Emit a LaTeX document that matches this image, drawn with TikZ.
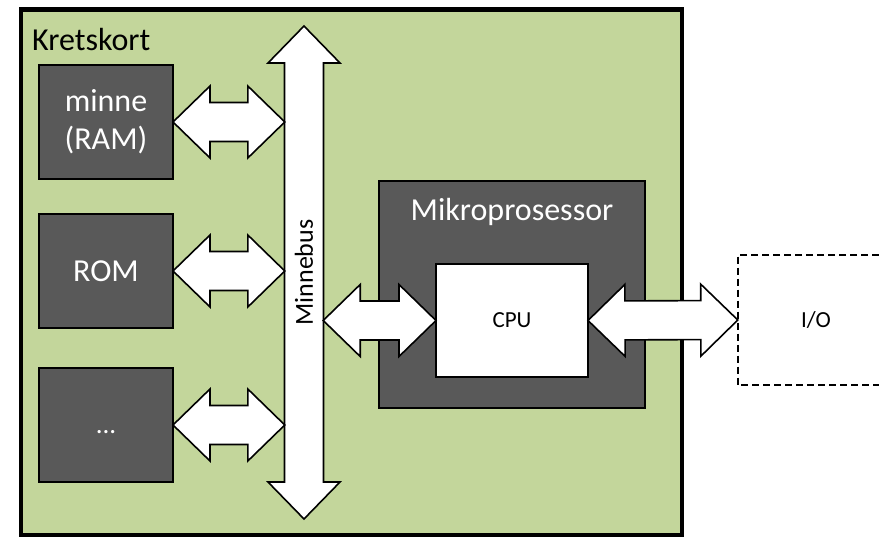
\documentclass[tikz,border=0pt]{standalone}
\usepackage{fontspec}
\setmainfont{Carlito}
\usepackage{tikz}
\usetikzlibrary{calc}
\usetikzlibrary{positioning}
\definecolor{boardgreen}{RGB}{195,214,155}
\definecolor{chipgray}{RGB}{89,89,89}
\newcommand{\headlen}{37pt}
\newcommand{\headhalf}{36pt}
\newcommand{\shafthalf}{19.5pt}
\newcommand{\bigfont}{\fontsize{32}{38}\selectfont}
\newcommand{\busfont}{\fontsize{26}{30}\selectfont}
\newcommand{\smallfont}{\fontsize{23}{27}\selectfont}
\newcommand{\fatarrow}[2]{%
  \draw[fat] (#1)
    -- ($(#1)!\headlen!(#2)!\headhalf!90:(#2)$)
    -- ($(#1)!\headlen!(#2)!\shafthalf!90:(#2)$)
    -- ($(#2)!\headlen!(#1)!\shafthalf!-90:(#1)$)
    -- ($(#2)!\headlen!(#1)!\headhalf!-90:(#1)$)
    -- (#2)
    -- ($(#2)!\headlen!(#1)!\headhalf!90:(#1)$)
    -- ($(#2)!\headlen!(#1)!\shafthalf!90:(#1)$)
    -- ($(#1)!\headlen!(#2)!\shafthalf!-90:(#2)$)
    -- ($(#1)!\headlen!(#2)!\headhalf!-90:(#2)$)
    -- cycle;}
\tikzset{
    common/.style={draw, rectangle, line width=1.5pt, outer sep=0pt},
    board/.style={common, line width=4.5pt, fill=boardgreen, minimum width=661pt, minimum height=525.5pt},
    membox/.style={common, fill=chipgray, text=white, font=\bigfont, align=center, minimum width=134pt, minimum height=114pt},
    chip/.style={common, fill=chipgray, minimum width=266pt, minimum height=227pt},
    chiptitle/.style={inner sep=0pt, text=white, font=\bigfont},
    cpubox/.style={common, fill=white, font=\smallfont, minimum width=152pt, minimum height=113pt},
    iobox/.style={font=\smallfont, minimum width=156pt, minimum height=130pt},
    ioline/.style={line width=1.5pt, dash pattern=on 7pt off 4pt},
    bustext/.style={inner sep=0pt, font=\busfont, minimum width=38pt},
    fat/.style={draw, fill=white, line width=1.6pt},
}
\begin{document}
\begin{tikzpicture}[x=1pt, y=-1pt]
    \useasboundingbox (0,0) rectangle (879,540);
    \coordinate (edge) at (879,0);

    \node[board] (board) at (351.5,272.25) {};
    \node[anchor=north west, inner sep=0pt, font=\bigfont] (board-title)
        at ([xshift=11pt, yshift=-19pt]board.north west) {Kretskort};

    \node[membox] (ram) at (106,122) {minne\\(RAM)};
    \node[membox, below=35pt of ram] (rom) {ROM};
    \node[membox, below=40pt of rom, font=\fontsize{27}{30}\selectfont] (more) {\vphantom{ROM}...};

    \node[chip] (mikro) at (512,294.5) {};
    \node[chiptitle, below=17pt of mikro.north] (mikro-title) {Mikroprosessor};
    \node[cpubox] (cpu) at (512,320.5) {CPU};

    \node[iobox] (io) at (816,320) {I/O};
    \draw[ioline] (io.north west -| edge) -- (io.north west) -- (io.south west) -- (io.south west -| edge);

    % bus
    \coordinate (bus-top) at (304,26);
    \coordinate (bus-bot) at (304,519);
    \fatarrow{bus-top}{bus-bot}
    \node[bustext] (bus) at ($(bus-top)!0.5!(bus-bot)$) {\rotatebox{90}{Minnebus}};

    \coordinate (ram-bus) at (ram.east -| bus.west);
    \coordinate (rom-bus) at (rom.east -| bus.west);
    \coordinate (more-bus) at (more.east -| bus.west);
    \coordinate (cpu-bus) at (cpu.west -| bus.east);

    \fatarrow{ram.east}{ram-bus}
    \fatarrow{rom.east}{rom-bus}
    \fatarrow{more.east}{more-bus}
    \fatarrow{cpu-bus}{cpu.west}
    \fatarrow{cpu.east}{io.west}
\end{tikzpicture}
\end{document}
